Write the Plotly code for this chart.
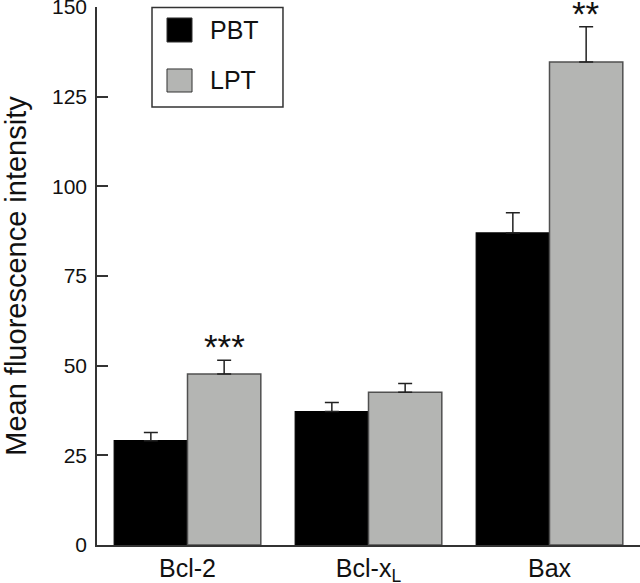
import plotly.graph_objects as go

categories = ["Bcl-2", "Bcl-x<sub>L</sub>", "Bax"]
pbt_values = [29.1, 37.2, 87.0]
pbt_errors = [2.3, 2.5, 5.6]
lpt_values = [47.7, 42.6, 134.7]
lpt_errors = [3.8, 2.4, 9.8]
significance = ["***", "", "**"]
y_ticks = [0, 25, 50, 75, 100, 125, 150]

FONT = "Liberation Sans, Arial, sans-serif"
BLACK = "#000000"
GREY = "#b4b5b3"
GREY_EDGE = "#505050"
AXIS = "#333333"

x_idx = list(range(len(categories)))
bargap = 0.19
bar_w = (1 - bargap) / 2

fig = go.Figure()
fig.add_trace(go.Bar(
    x=x_idx, y=pbt_values, name="PBT",
    marker=dict(color=BLACK, line=dict(color=BLACK, width=1.2)),
    error_y=dict(type="data", symmetric=False, array=pbt_errors,
                 arrayminus=[0] * len(pbt_errors), color="#222222",
                 thickness=1.5, width=7),
    showlegend=False,
))
fig.add_trace(go.Bar(
    x=x_idx, y=lpt_values, name="LPT",
    marker=dict(color=GREY, line=dict(color=GREY_EDGE, width=1.5)),
    error_y=dict(type="data", symmetric=False, array=lpt_errors,
                 arrayminus=[0] * len(lpt_errors), color="#222222",
                 thickness=1.5, width=7),
    showlegend=False,
))

# significance markers above LPT bars
sig_shift = {0: 14, 2: 13}
for i, s in enumerate(significance):
    if s:
        fig.add_annotation(
            x=i + bar_w / 2, y=lpt_values[i] + lpt_errors[i],
            xref="x", yref="y", text=s, showarrow=False,
            yanchor="middle", yshift=sig_shift.get(i, 12),
            font=dict(family=FONT, size=35, color="#111111"),
        )

# manual legend box
fig.add_shape(type="rect", xref="paper", yref="paper",
              x0=0.1013, x1=0.3425, y0=0.814, y1=0.999,
              line=dict(color="#333333", width=1.5), fillcolor="white")
legend_items = [("PBT", BLACK, 0.9796, 0.9349), ("LPT", GREY, 0.8848, 0.8420)]
for name, col, ytop, ybot in legend_items:
    fig.add_shape(type="rect", xref="paper", yref="paper",
                  x0=0.1289, x1=0.1750, y0=ybot, y1=ytop,
                  line=dict(color="#333333", width=1), fillcolor=col)
    fig.add_annotation(xref="paper", yref="paper", x=0.2044, y=(ytop + ybot) / 2,
                       text=name, showarrow=False, xanchor="left", yanchor="middle",
                       font=dict(family=FONT, size=25, color="#111111"))

fig.update_layout(
    width=640, height=583,
    margin=dict(l=97, r=0, t=7, b=38),
    paper_bgcolor="white", plot_bgcolor="white",
    barmode="group", bargap=bargap, bargroupgap=0,
    font=dict(family=FONT, color="#111111"),
)
fig.update_xaxes(
    range=[-0.5, 2.5], tickmode="array", tickvals=x_idx, ticktext=categories,
    showline=True, linecolor=AXIS, linewidth=1.5, ticks="",
    showgrid=False, zeroline=False, automargin=False,
    tickfont=dict(family=FONT, size=25, color="#111111"),
)
fig.update_yaxes(
    range=[0, 150], tickmode="array", tickvals=y_ticks,
    showline=True, linecolor=AXIS, linewidth=1.5,
    ticks="inside", ticklen=11, tickwidth=1.5, tickcolor=AXIS,
    showgrid=False, zeroline=False, automargin=False,
    ticklabeloverflow="allow",
    tickfont=dict(family=FONT, size=21, color="#111111"),
    ticklabelstandoff=4,
    title=dict(text="Mean fluorescence intensity", standoff=26,
               font=dict(family=FONT, size=29, color="#111111")),
)

fig.write_html("out.html", config={"displayModeBar": False},
               post_script="document.body.style.margin='0';document.body.style.overflow='hidden';")
